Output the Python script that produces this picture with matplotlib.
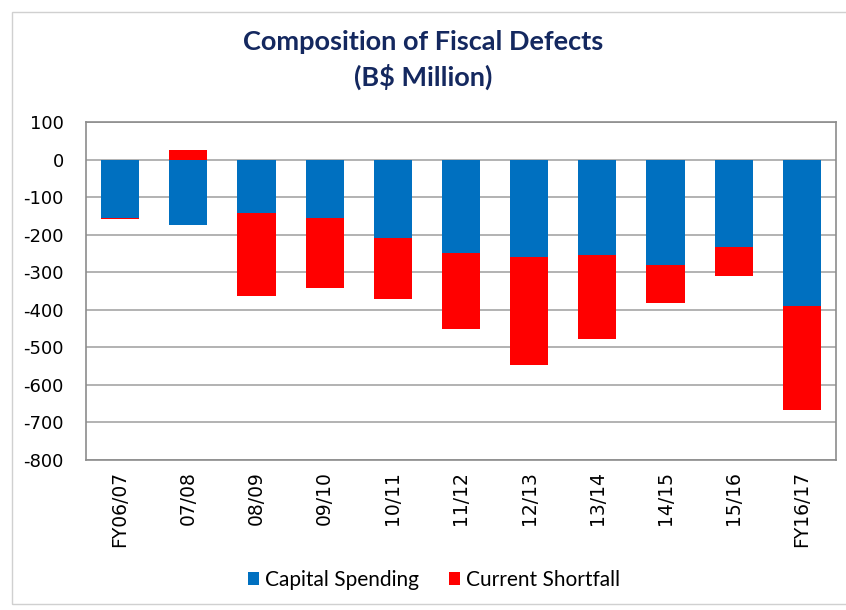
import matplotlib
matplotlib.use("Agg")
import matplotlib.pyplot as plt
import numpy as np
from matplotlib.patches import Rectangle

plt.rcParams["axes.unicode_minus"] = False

years = ["FY06/07", "07/08", "08/09", "09/10", "10/11", "11/12",
         "12/13", "13/14", "14/15", "15/16", "FY16/17"]
capital_spending = [-155, -175, -142, -156, -208, -248, -260, -254, -281, -232, -390]
current_shortfall = [-3, 25, -221, -185, -163, -203, -286, -225, -102, -79, -278]

BLUE = "#0070C0"
RED = "#FF0000"
GRID = "#A6A6A6"

fig = plt.figure(figsize=(8.46, 6.10), dpi=100)
ax = fig.add_axes([86 / 846, 1 - 460 / 610, 750 / 846, 338 / 610])

x = np.arange(len(years))
cap = np.array(capital_spending)
cur = np.array(current_shortfall)
# Excel-style stacking: negatives stack below the blue bar, positives go up from zero
cur_base = np.where(cur < 0, cap, 0)

ax.bar(x, cap, width=0.56, color=BLUE, label="Capital Spending", zorder=3)
ax.bar(x, cur, bottom=cur_base, width=0.56, color=RED, label="Current Shortfall", zorder=3)

ax.set_xlim(-0.5, len(years) - 0.5)
ax.set_ylim(-800, 100)
ax.set_yticks(range(-800, 101, 100))
ax.yaxis.grid(True, color=GRID, lw=1.2, zorder=0)
ax.set_axisbelow(True)
ax.set_xticks(x)
ax.set_xticklabels(years, rotation=90, fontsize=13.5, family="DejaVu Sans")
ax.tick_params(axis="y", labelsize=13, length=0, pad=16)
ax.tick_params(axis="x", length=0, pad=8)
for s in ax.spines.values():
    s.set_color("#8C8C8C")
    s.set_linewidth(1.2)

fig.text(0.5, 1 - 42 / 610, "Composition of Fiscal Defects", ha="center", va="center",
         fontsize=19.5, fontweight="bold", color="#14285F", family="Lato")
fig.text(0.5, 1 - 77 / 610, "(B$ Million)", ha="center", va="center",
         fontsize=19.5, fontweight="bold", color="#14285F", family="Lato")

fig.legend(loc="center", bbox_to_anchor=(434 / 846, 1 - 580 / 610), ncol=2, frameon=False,
           handlelength=0.55, handleheight=0.6, handletextpad=0.3,
           columnspacing=1.4, prop={"family": "Lato", "size": 15})

fig.patches.append(Rectangle((12 / 846, 0.01), 1.0, 1 - 12 / 610 - 0.01,
                             transform=fig.transFigure, fill=False,
                             edgecolor="#D0D0D0", lw=1))

fig.savefig("out.png", dpi=100)
